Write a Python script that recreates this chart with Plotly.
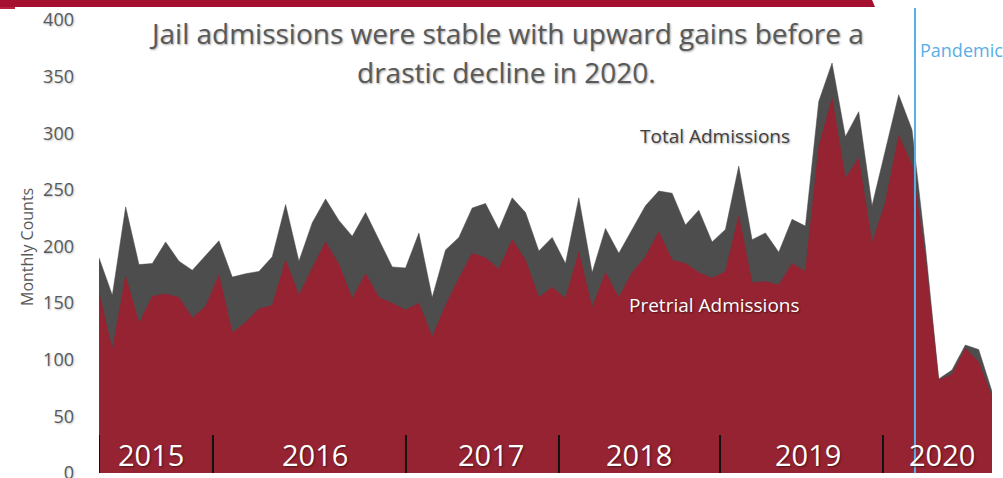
import plotly.graph_objects as go

# Monthly index (68 months shown)
months = list(range(68))

total_admissions = [190, 157, 235, 184, 185, 204, 187, 179, 192, 205, 173, 176, 178, 191, 237, 187, 221, 242,
                    223, 209, 230, 206, 182, 181, 212, 155, 197, 208, 234, 238, 215, 243, 230, 196, 208,
                    185, 243, 177, 216, 194, 215, 236, 249, 247, 219, 232, 204, 215, 271, 206, 212, 195,
                    224, 218, 328, 362, 297, 319, 236, 285, 334, 303, 200, 83, 91, 113, 109, 72]

pretrial_admissions = [159, 109, 174, 132, 156, 158, 155, 137, 147, 175, 124, 133, 145, 148, 188, 157, 181, 204,
                       184, 154, 176, 155, 150, 144, 150, 120, 148, 172, 194, 190, 180, 206, 188, 155, 164,
                       154, 195, 146, 177, 155, 177, 191, 213, 188, 185, 177, 172, 178, 227, 168, 169, 166,
                       185, 178, 288, 331, 260, 278, 203, 239, 298, 272, 190, 82, 87, 110, 98, 67]

year_labels = ["2015", "2016", "2017", "2018", "2019", "2020"]
year_label_pos = [3.9, 16.2, 29.4, 40.5, 53.2, 63.25]
year_separators = [0, 8.55, 23.03, 34.51, 46.59, 58.82]
pandemic_x = 61.22

y_ticks = [0, 50, 100, 150, 200, 250, 300, 350, 400]

FONT = "Open Sans"
GRAY_TXT = "#595959"
TOTAL_COL = "#4d4d4d"
PRETRIAL_COL = "#962332"
BAR_COL = "#a61030"
PANDEMIC_COL = "#5aaee6"

fig = go.Figure()
fig.add_trace(go.Scatter(x=months, y=total_admissions, mode="lines", fill="tozeroy",
                         line=dict(color=TOTAL_COL, width=0.5), fillcolor=TOTAL_COL,
                         name="Total Admissions", hoverinfo="skip"))
fig.add_trace(go.Scatter(x=months, y=pretrial_admissions, mode="lines", fill="tozeroy",
                         line=dict(color=PRETRIAL_COL, width=0.5), fillcolor=PRETRIAL_COL,
                         name="Pretrial Admissions", hoverinfo="skip"))

W, H = 1003, 478
L, R, T, B = 99, 11, 20, 5
pw, ph = W - L - R, H - T - B

def px(xp):
    return (xp - L) / pw

def py(yp):
    return (H - B - yp) / ph

shapes = []
# top red banner with angled end
shapes.append(dict(type="path", xref="paper", yref="paper",
                   path=f"M {px(-5)},{py(-5)} L {px(870)},{py(-5)} L {px(875)},{py(7)} L {px(-5)},{py(7)} Z",
                   fillcolor=BAR_COL, line=dict(width=0), layer="above"))
shapes.append(dict(type="rect", xref="paper", yref="paper", x0=px(-5), x1=px(15), y0=py(9), y1=py(7),
                   fillcolor="#b8233f", line=dict(width=0), layer="above"))
# year separators
for s in year_separators:
    shapes.append(dict(type="line", xref="x", yref="y", x0=s, x1=s, y0=0, y1=33.5,
                       line=dict(color="#111111", width=2), layer="above"))
# pandemic line
shapes.append(dict(type="line", xref="x", yref="paper", x0=pandemic_x, x1=pandemic_x,
                   y0=0, y1=py(8), line=dict(color=PANDEMIC_COL, width=2), layer="above"))

annotations = []
title_shadow = "1px 1px 2px rgba(0,0,0,0.35)"
annotations.append(dict(text="Jail admissions were stable with upward gains before a", xref="paper", yref="paper",
                        x=px(506), y=py(33), showarrow=False, xanchor="center", yanchor="middle",
                        font=dict(family=FONT, size=28, color=GRAY_TXT, shadow=title_shadow)))
annotations.append(dict(text="drastic decline in 2020.", xref="paper", yref="paper",
                        x=px(506), y=py(72), showarrow=False, xanchor="center", yanchor="middle",
                        font=dict(family=FONT, size=28, color=GRAY_TXT, shadow=title_shadow)))
for lab, pos in zip(year_labels, year_label_pos):
    annotations.append(dict(text=lab, x=pos, y=15.9, xref="x", yref="y", showarrow=False,
                            xanchor="center", yanchor="middle",
                            font=dict(family=FONT, size=29, color="white",
                                      shadow="1px 1px 2px rgba(0,0,0,0.5)")))
annotations.append(dict(text="Total Admissions", xref="paper", yref="paper", x=px(715), y=py(136),
                        showarrow=False, xanchor="center", yanchor="middle",
                        font=dict(family=FONT, size=19, color="#404040", shadow=title_shadow)))
annotations.append(dict(text="Pretrial Admissions", xref="paper", yref="paper", x=px(714), y=py(305),
                        showarrow=False, xanchor="center", yanchor="middle",
                        font=dict(family=FONT, size=19, color="white", shadow="1px 1px 2px rgba(0,0,0,0.5)")))
annotations.append(dict(text="Pandemic", xref="paper", yref="paper", x=px(918), y=py(50),
                        showarrow=False, xanchor="left", yanchor="middle",
                        font=dict(family=FONT, size=18, color=PANDEMIC_COL)))
annotations.append(dict(text="Monthly Counts", xref="paper", yref="paper", x=px(27), y=py(247),
                        showarrow=False, xanchor="center", yanchor="middle", textangle=-90,
                        font=dict(family=FONT, size=16, color=GRAY_TXT)))

fig.update_layout(
    width=W, height=H,
    margin=dict(l=L, r=R, t=T, b=B, autoexpand=False),
    paper_bgcolor="white", plot_bgcolor="white",
    showlegend=False,
    shapes=shapes, annotations=annotations,
    xaxis=dict(range=[0, 67], showgrid=False, zeroline=False, showline=False,
               showticklabels=False, ticks="", fixedrange=True, automargin=False),
    yaxis=dict(range=[0, 400], tickvals=y_ticks, showgrid=False, zeroline=False, showline=False,
               ticks="", ticklabelstandoff=24, ticklabeloverflow="allow", automargin=False,
               tickfont=dict(family=FONT, size=18, color=GRAY_TXT, shadow="1px 1px 2px rgba(0,0,0,0.25)"),
               fixedrange=True),
)

fig.write_html("out.html", config={"displayModeBar": False},
               post_script="document.body.style.margin='0';document.body.style.overflow='hidden';")
